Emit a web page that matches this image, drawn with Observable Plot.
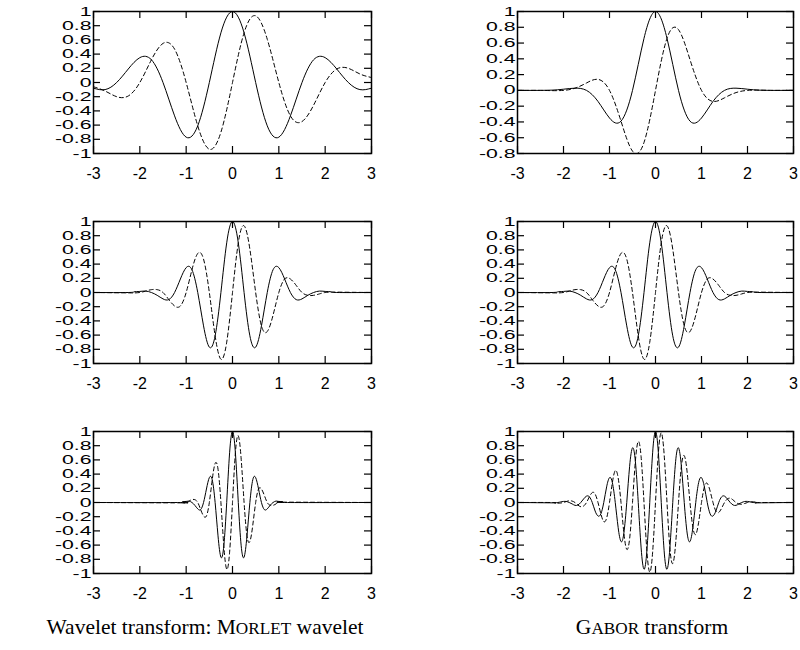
<!DOCTYPE html>
<html>
<head>
<meta charset="utf-8">
<script src="https://cdn.jsdelivr.net/npm/d3@7"></script>
<script src="https://cdn.jsdelivr.net/npm/@observablehq/plot@0.6"></script>
<style>
  body { margin: 0; background: #fff; }
  #page { position: relative; width: 800px; height: 650px; overflow: hidden; background: #fff; }
  .panel { position: absolute; }
  .caption {
    position: absolute;
    font-family: "Liberation Serif", "Times New Roman", Times, serif;
    font-size: 21.5px;
    line-height: 22px;
    color: #000;
    white-space: nowrap;
    text-align: center;
  }
  .sc { font-size: 0.8em; }
</style>
</head>
<body>
<div id="page">
  <div class="caption" style="left:5px; width:400px; top:616px;">Wavelet transform: M<span class="sc">ORLET</span> wavelet</div>
  <div class="caption" style="left:452px; width:400px; top:616px;">G<span class="sc">ABOR</span> transform</div>
</div>
<script>
// Axis ticks
const xTicks = [-3, -2, -1, 0, 1, 2, 3];
const yTicksFull = [-1, -0.8, -0.6, -0.4, -0.2, 0, 0.2, 0.4, 0.6, 0.8, 1];
const yTicksShort = [-0.8, -0.6, -0.4, -0.2, 0, 0.2, 0.4, 0.6, 0.8, 1];

// Top row: sample positions (step 0.25)
const xTop = [-3, -2.75, -2.5, -2.25, -2, -1.75, -1.5, -1.25, -1, -0.75, -0.5, -0.25, 0,
  0.25, 0.5, 0.75, 1, 1.25, 1.5, 1.75, 2, 2.25, 2.5, 2.75, 3];

// Morlet wavelet, scale 1: real part (solid) and imaginary part (dashed)
const morlet1Re = [-0.08, -0.10, 0, 0.19, 0.35, 0.32, 0, -0.47, -0.77, -0.61, 0, 0.70, 1,
  0.70, 0, -0.61, -0.77, -0.47, 0, 0.32, 0.35, 0.19, 0, -0.10, -0.08];
const morlet1Im = [-0.06, -0.12, -0.20, -0.19, 0, 0.32, 0.55, 0.47, 0, -0.61, -0.94, -0.70, 0,
  0.70, 0.94, 0.61, 0, -0.47, -0.55, -0.32, 0, 0.19, 0.20, 0.12, 0.07];

// Gabor function, low frequency
const gabor1Re = [0, 0, 0, 0.003, 0.015, 0.028, 0, -0.14, -0.35, -0.39, 0, 0.66, 1,
  0.66, 0, -0.39, -0.35, -0.14, 0, 0.028, 0.015, 0.003, 0, 0, 0];
const gabor1Im = [0, 0, 0, -0.003, 0, 0.028, 0.094, 0.14, 0, -0.39, -0.77, -0.66, 0,
  0.66, 0.77, 0.39, 0, -0.14, -0.094, -0.028, 0, 0.003, 0, 0, 0];

// Middle row: sample positions (step 0.125)
const xMid = [-3, -2.25, -2.125, -2, -1.875, -1.75, -1.625, -1.5, -1.375, -1.25, -1.125, -1,
  -0.875, -0.75, -0.625, -0.5, -0.375, -0.25, -0.125, 0, 0.125, 0.25, 0.375, 0.5, 0.625, 0.75,
  0.875, 1, 1.125, 1.25, 1.375, 1.5, 1.625, 1.75, 1.875, 2, 2.125, 2.25, 3];

// Morlet wavelet, scale 1/2
const morlet2Re = [0, 0, 0.01, 0.015, 0.02, 0, -0.04, -0.09, -0.10, 0, 0.19, 0.35, 0.32, 0,
  -0.47, -0.77, -0.61, 0, 0.70, 1, 0.70, 0, -0.61, -0.77, -0.47, 0, 0.32, 0.35, 0.19, 0,
  -0.10, -0.09, -0.04, 0, 0.02, 0.015, 0.01, 0, 0];
const morlet2Im = [0, -0.005, -0.006, 0, 0.02, 0.04, 0.04, 0, -0.10, -0.19, -0.19, 0, 0.32,
  0.55, 0.47, 0, -0.61, -0.94, -0.70, 0, 0.70, 0.94, 0.61, 0, -0.47, -0.55, -0.32, 0, 0.19,
  0.19, 0.10, 0, -0.04, -0.04, -0.02, 0, 0.006, 0.005, 0];

// Gabor function, medium frequency
const gabor2Re = [0, 0, 0.01, 0.015, 0.02, 0, -0.04, -0.09, -0.10, 0, 0.19, 0.35, 0.32, 0,
  -0.47, -0.77, -0.61, 0, 0.70, 1, 0.70, 0, -0.61, -0.77, -0.47, 0, 0.32, 0.35, 0.19, 0,
  -0.10, -0.09, -0.04, 0, 0.02, 0.015, 0.01, 0, 0];
const gabor2Im = [0, -0.005, -0.006, 0, 0.02, 0.04, 0.04, 0, -0.10, -0.19, -0.19, 0, 0.32,
  0.55, 0.47, 0, -0.61, -0.94, -0.70, 0, 0.70, 0.94, 0.61, 0, -0.47, -0.55, -0.32, 0, 0.19,
  0.19, 0.10, 0, -0.04, -0.04, -0.02, 0, 0.006, 0.005, 0];

// Bottom-left: sample positions (step 0.0625 near the centre)
const xMorlet4 = [-3, -1.125, -1.0625, -1, -0.9375, -0.875, -0.8125, -0.75, -0.6875, -0.625,
  -0.5625, -0.5, -0.4375, -0.375, -0.3125, -0.25, -0.1875, -0.125, -0.0625, 0, 0.0625, 0.125,
  0.1875, 0.25, 0.3125, 0.375, 0.4375, 0.5, 0.5625, 0.625, 0.6875, 0.75, 0.8125, 0.875, 0.9375,
  1, 1.0625, 1.125, 3];

// Morlet wavelet, scale 1/4
const morlet4Re = [0, 0, 0.01, 0.015, 0.02, 0, -0.04, -0.09, -0.10, 0, 0.19, 0.35, 0.32, 0,
  -0.47, -0.77, -0.61, 0, 0.70, 1, 0.70, 0, -0.61, -0.77, -0.47, 0, 0.32, 0.35, 0.19, 0,
  -0.10, -0.09, -0.04, 0, 0.02, 0.015, 0.01, 0, 0];
const morlet4Im = [0, -0.005, -0.006, 0, 0.02, 0.04, 0.04, 0, -0.10, -0.19, -0.19, 0, 0.32,
  0.55, 0.47, 0, -0.61, -0.94, -0.70, 0, 0.70, 0.94, 0.61, 0, -0.47, -0.55, -0.32, 0, 0.19,
  0.19, 0.10, 0, -0.04, -0.04, -0.02, 0, 0.006, 0.005, 0];

// Bottom-right: sample positions (step 0.0625)
const xGabor4 = [-3, -2.25, -2.1875, -2.125, -2.0625, -2, -1.9375, -1.875, -1.8125, -1.75,
  -1.6875, -1.625, -1.5625, -1.5, -1.4375, -1.375, -1.3125, -1.25, -1.1875, -1.125, -1.0625, -1,
  -0.9375, -0.875, -0.8125, -0.75, -0.6875, -0.625, -0.5625, -0.5, -0.4375, -0.375, -0.3125,
  -0.25, -0.1875, -0.125, -0.0625, 0, 0.0625, 0.125, 0.1875, 0.25, 0.3125, 0.375, 0.4375, 0.5,
  0.5625, 0.625, 0.6875, 0.75, 0.8125, 0.875, 0.9375, 1, 1.0625, 1.125, 1.1875, 1.25, 1.3125,
  1.375, 1.4375, 1.5, 1.5625, 1.625, 1.6875, 1.75, 1.8125, 1.875, 1.9375, 2, 2.0625, 2.125,
  2.1875, 2.25, 3];

// Gabor function, high frequency
const gabor4Re = [0, -0.005, -0.005, 0, 0.008, 0.015, 0.014, 0, -0.02, -0.04, -0.035, 0, 0.05,
  0.09, 0.08, 0, -0.12, -0.19, -0.16, 0, 0.22, 0.35, 0.28, 0, -0.35, -0.55, -0.43, 0, 0.51,
  0.77, 0.58, 0, -0.64, -0.94, -0.68, 0, 0.70, 1, 0.70, 0, -0.68, -0.94, -0.64, 0, 0.58, 0.77,
  0.51, 0, -0.43, -0.55, -0.35, 0, 0.28, 0.35, 0.22, 0, -0.16, -0.19, -0.12, 0, 0.08, 0.09,
  0.05, 0, -0.035, -0.04, -0.02, 0, 0.014, 0.015, 0.008, 0, -0.005, -0.005, 0];
const gabor4Im = [0, 0, -0.005, -0.009, -0.008, 0, 0.014, 0.025, 0.02, 0, -0.035, -0.06, -0.05,
  0, 0.08, 0.14, 0.12, 0, -0.16, -0.27, -0.22, 0, 0.28, 0.45, 0.35, 0, -0.43, -0.66, -0.51, 0,
  0.58, 0.86, 0.64, 0, -0.68, -0.98, -0.70, 0, 0.70, 0.98, 0.68, 0, -0.64, -0.86, -0.58, 0,
  0.51, 0.66, 0.43, 0, -0.35, -0.45, -0.28, 0, 0.22, 0.27, 0.16, 0, -0.12, -0.14, -0.08, 0,
  0.05, 0.06, 0.035, 0, -0.02, -0.025, -0.014, 0, 0.008, 0.009, 0.005, 0, 0];

const LEFT = {left: 0, marginLeft: 93, marginRight: 29};
const RIGHT = {left: 400, marginLeft: 117, marginRight: 7};

const panels = [
  {...LEFT, top: 0, x: xTop, re: morlet1Re, im: morlet1Im, yDomain: [-1, 1], yTicks: yTicksFull},
  {...RIGHT, top: 0, x: xTop, re: gabor1Re, im: gabor1Im, yDomain: [-0.8, 1], yTicks: yTicksShort},
  {...LEFT, top: 210, x: xMid, re: morlet2Re, im: morlet2Im, yDomain: [-1, 1], yTicks: yTicksFull},
  {...RIGHT, top: 210, x: xMid, re: gabor2Re, im: gabor2Im, yDomain: [-1, 1], yTicks: yTicksFull},
  {...LEFT, top: 420, x: xMorlet4, re: morlet4Re, im: morlet4Im, yDomain: [-1, 1], yTicks: yTicksFull},
  {...RIGHT, top: 420, x: xGabor4, re: gabor4Re, im: gabor4Im, yDomain: [-1, 1], yTicks: yTicksFull}
];

const W = 400, H = 200, MT = 11, MB = 47, TICK = 7;
const page = document.getElementById("page");

for (const p of panels) {
  const frameW = W - p.marginLeft - p.marginRight;
  const frameH = H - MT - MB;
  const reData = p.x.map((x, i) => ({x, y: p.re[i]}));
  const imData = p.x.map((x, i) => ({x, y: p.im[i]}));
  const tickStyle = {stroke: "#000", strokeWidth: 1.2};

  const svg = Plot.plot({
    width: W,
    height: H,
    marginLeft: p.marginLeft,
    marginRight: p.marginRight,
    marginTop: MT,
    marginBottom: MB,
    x: {domain: [-3, 3]},
    y: {domain: p.yDomain},
    style: {
      fontFamily: '"Liberation Sans", Arial, Helvetica, sans-serif',
      color: "#000",
      background: "#fff",
      overflow: "visible"
    },
    marks: [
      Plot.line(reData, {x: "x", y: "y", curve: "natural", stroke: "#000", strokeWidth: 1, clip: true}),
      Plot.line(imData, {x: "x", y: "y", curve: "natural", stroke: "#000", strokeWidth: 1,
        strokeDasharray: "4,3", clip: true}),
      // inward tick marks on all four sides
      Plot.tickX(xTicks, {x: d => d, insetTop: frameH - TICK, ...tickStyle}),
      Plot.tickX(xTicks, {x: d => d, insetBottom: frameH - TICK, ...tickStyle}),
      Plot.tickY(p.yTicks, {y: d => d, insetRight: frameW - TICK, ...tickStyle}),
      Plot.tickY(p.yTicks, {y: d => d, insetLeft: frameW - TICK, ...tickStyle}),
      Plot.axisX(xTicks, {anchor: "bottom", tickSize: 0, tickPadding: 14, fontSize: 16,
        tickFormat: d => String(d), label: null}),
      Plot.axisY(p.yTicks, {anchor: "left", tickSize: 0, tickPadding: 2, fontSize: 12.5,
        tickFormat: d => String(d), label: null}),
      Plot.frame({stroke: "#000", strokeWidth: 1.5})
    ]
  });

  // widen the y tick labels about their right-hand anchor
  svg.querySelectorAll('g[aria-label="y-axis tick label"] text').forEach(t => {
    const tr = t.getAttribute("transform") || "";
    t.setAttribute("transform", tr + " scale(1.7,1)");
  });

  const holder = document.createElement("div");
  holder.className = "panel";
  holder.style.left = p.left + "px";
  holder.style.top = p.top + "px";
  holder.appendChild(svg);
  page.appendChild(holder);
}
</script>
</body>
</html>
